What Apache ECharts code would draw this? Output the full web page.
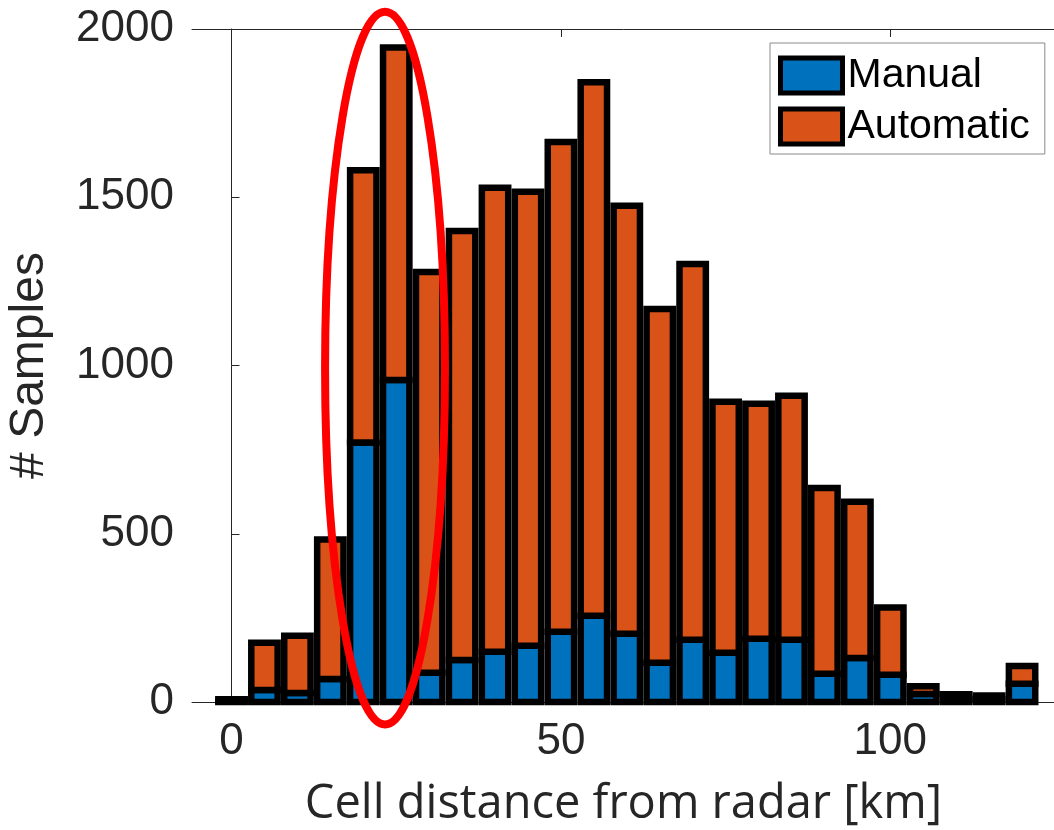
<!DOCTYPE html>
<html>
<head>
<meta charset="utf-8">
<script src="https://cdn.jsdelivr.net/npm/echarts@6/dist/echarts.min.js"></script>
<style>
html,body{margin:0;padding:0;background:#fff;}
#main{width:1054px;height:830px;}
</style>
</head>
<body>
<div id="main"></div>
<script>
// ---- data ----
const binCenters = [0, 5, 10, 15, 20, 25, 30, 35, 40, 45, 50, 55, 60, 65, 70, 75, 80, 85, 90, 95, 100, 105, 110, 115, 120];
const manualCounts = [3, 36, 27, 68, 771, 957, 87, 125, 149, 167, 209, 256, 203, 117, 185, 146, 188, 185, 84, 131, 81, 24, 10, 8, 54];
const automaticCounts = [5, 140, 170, 415, 809, 988, 1191, 1275, 1379, 1349, 1455, 1586, 1272, 1051, 1117, 746, 698, 725, 552, 464, 200, 23, 13, 11, 53];
const xTickValues = [0, 50, 100];
const yTickValues = [0, 500, 1000, 1500, 2000];
const seriesNames = ['Manual', 'Automatic'];
const xAxisTitle = 'Cell distance from radar [km]';
const yAxisTitle = '# Samples';
// highlight ellipse (data units)
const ellipseCenter = [23.3, 992];
const ellipseRadius = [9.1, 1059];

// ---- style ----
const BIN_WIDTH = 5;
const BAR_FRACTION = 0.8;
const COLORS = ['#0072BD', '#D95319'];
const EDGE = 6.5;
const TXT = '#262626';

const manualData = binCenters.map((x, i) => [x, 0, manualCounts[i]]);
const autoData = binCenters.map((x, i) => [x, manualCounts[i], manualCounts[i] + automaticCounts[i]]);

function makeRender(color) {
  return function (params, api) {
    const x = api.value(0), y0 = api.value(1), y1 = api.value(2);
    const half = BIN_WIDTH * BAR_FRACTION / 2;
    const p0 = api.coord([x - half, y1]);
    const p1 = api.coord([x + half, y0]);
    return {
      type: 'rect',
      shape: { x: p0[0], y: p0[1], width: p1[0] - p0[0], height: p1[1] - p0[1] },
      style: { fill: color, stroke: '#000', lineWidth: EDGE }
    };
  };
}

const chart = echarts.init(document.getElementById('main'), null, { renderer: 'canvas' });
const option = {
  animation: false,
  backgroundColor: '#fff',
  grid: { left: 192, right: -1, top: 29, bottom: 128, outerBoundsMode: 'none', containLabel: false },
  legend: {
    orient: 'vertical',
    left: 770, top: 43,
    padding: [12, 15, 7, 8],
    itemGap: 10,
    itemWidth: 62, itemHeight: 35,
    icon: 'rect',
    itemStyle: { borderColor: '#000', borderWidth: 5 },
    backgroundColor: '#fff',
    borderColor: '#8a8a8a', borderWidth: 1,
    textStyle: { fontFamily: 'Liberation Sans', fontSize: 41, color: '#000', padding: [0, 0, 0, 0] },
    data: seriesNames
  },
  xAxis: [{
    type: 'value', min: -6, max: 125, position: 'bottom',
    name: xAxisTitle, nameLocation: 'middle', nameGap: 79,
    nameTextStyle: { fontFamily: 'Open Sans', fontSize: 47, color: TXT },
    axisLine: { show: true, onZero: false, lineStyle: { color: TXT, width: 1 } },
    axisTick: { show: true, inside: true, length: 8, customValues: xTickValues, lineStyle: { color: TXT } },
    axisLabel: { customValues: xTickValues, fontFamily: 'Liberation Sans', fontSize: 44, color: TXT, margin: 18 },
    splitLine: { show: false }
  }, {
    type: 'value', min: -6, max: 125, position: 'top',
    axisLine: { show: true, onZero: false, lineStyle: { color: TXT, width: 1 } },
    axisTick: { show: true, inside: true, length: 8, customValues: xTickValues, lineStyle: { color: TXT } },
    axisLabel: { show: false },
    splitLine: { show: false }
  }],
  yAxis: {
    type: 'value', min: 0, max: 2000, interval: 500,
    name: yAxisTitle, nameLocation: 'middle', nameGap: 138,
    nameTextStyle: { fontFamily: 'Liberation Sans', fontSize: 48, color: TXT },
    axisLine: { show: true, lineStyle: { color: TXT, width: 1 } },
    axisTick: { show: true, inside: true, length: 8, lineStyle: { color: TXT } },
    axisLabel: { fontFamily: 'Liberation Sans', fontSize: 44, color: TXT, margin: 18,
      formatter: v => yTickValues.indexOf(v) >= 0 ? String(v) : '' },
    splitLine: { show: false }
  },
  series: [{
    name: seriesNames[0], type: 'custom', xAxisIndex: 0, yAxisIndex: 0,
    itemStyle: { color: COLORS[0], borderColor: '#000', borderWidth: 5 },
    encode: { x: 0, y: [1, 2] },
    renderItem: makeRender(COLORS[0]),
    data: manualData, z: 2
  }, {
    name: seriesNames[1], type: 'custom', xAxisIndex: 0, yAxisIndex: 0,
    itemStyle: { color: COLORS[1], borderColor: '#000', borderWidth: 5 },
    encode: { x: 0, y: [1, 2] },
    renderItem: makeRender(COLORS[1]),
    data: autoData, z: 3
  }]
};
chart.setOption(option);

const c = chart.convertToPixel({ gridIndex: 0 }, ellipseCenter);
const e = chart.convertToPixel({ gridIndex: 0 }, [ellipseCenter[0] + ellipseRadius[0], ellipseCenter[1] + ellipseRadius[1]]);
chart.setOption({
  graphic: [{
    type: 'ellipse', z: 100,
    shape: { cx: c[0], cy: c[1], rx: Math.abs(e[0] - c[0]), ry: Math.abs(c[1] - e[1]) },
    style: { fill: 'none', stroke: '#FF0000', lineWidth: 8 }
  }]
});
</script>
</body>
</html>
